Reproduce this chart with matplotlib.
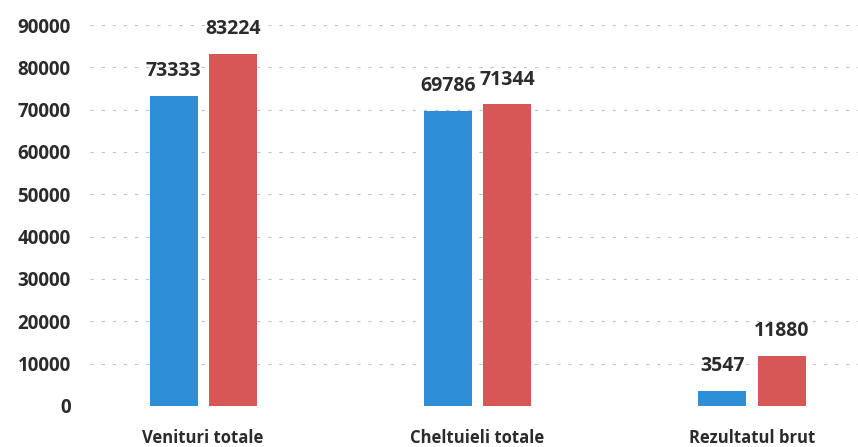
import matplotlib.pyplot as plt
import numpy as np

categories = ["Venituri totale", "Cheltuieli totale", "Rezultatul brut"]
series_a = [73333, 69786, 3547]
series_b = [83224, 71344, 11880]
yticks = [0, 10000, 20000, 30000, 40000, 50000, 60000, 70000, 80000, 90000]

plt.rcParams["font.family"] = ["Open Sans", "DejaVu Sans"]

fig = plt.figure(figsize=(8.58, 4.47), dpi=100)
ax = fig.add_axes([0.105, 0.092, 0.895, 0.852])

x = np.arange(len(categories))
w = 0.175
off = 0.108
blue = "#2f8fd6"
red = "#d65756"

ax.bar(x - off, series_a, w, color=blue, zorder=3)
ax.bar(x + off, series_b, w, color=red, zorder=3)

for xi, v in zip(x - off, series_a):
    ax.text(xi, v + 3400, str(v), ha="center", va="bottom", fontsize=14,
            fontweight="bold", color="#2b2b2b")
for xi, v in zip(x + off, series_b):
    ax.text(xi, v + 3400, str(v), ha="center", va="bottom", fontsize=14,
            fontweight="bold", color="#2b2b2b")

ax.set_ylim(0, 90000)
ax.set_xlim(-0.412, 2.386)
ax.set_yticks(yticks)
ax.set_yticklabels([str(t) for t in yticks], fontsize=13.5, fontweight="bold", color="#2b2b2b")
ax.set_xticks(x)
ax.set_xticklabels(categories, fontsize=12, fontweight="bold", color="#2b2b2b")
ax.tick_params(axis="y", length=0, pad=14)
ax.tick_params(axis="x", length=0, pad=17)

ax.grid(axis="y", color="#c4c4c4", linestyle=(0, (3, 7)), linewidth=0.8, zorder=0)
for s in ax.spines.values():
    s.set_visible(False)

fig.savefig("out.png", dpi=100)
